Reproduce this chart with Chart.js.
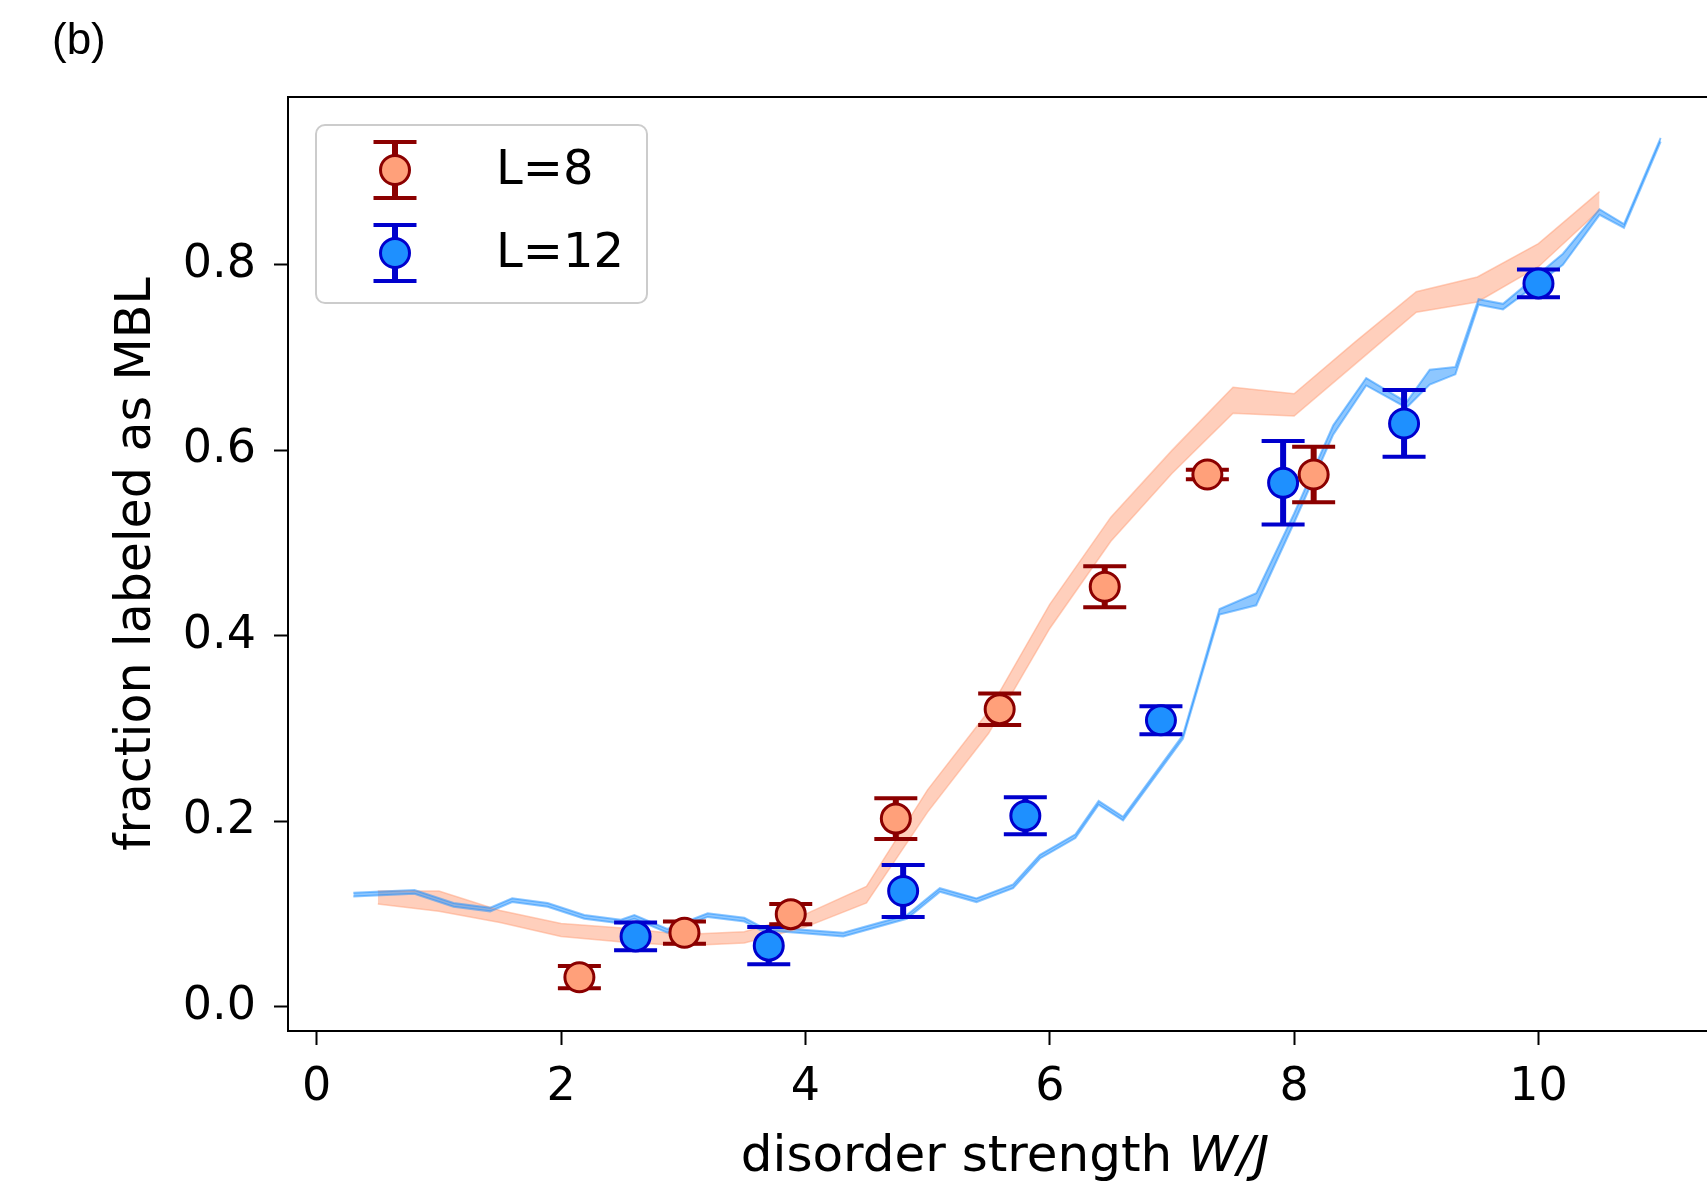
<!DOCTYPE html>
<html>
<head>
<meta charset="utf-8">
<script src="https://cdn.jsdelivr.net/npm/chart.js@4.4.1/dist/chart.umd.min.js"></script>
<style>
  html, body { margin: 0; padding: 0; background: #fff; overflow: hidden; }
  #wrap { width: 1707px; height: 1185px; overflow: hidden; }
</style>
</head>
<body>
<div id="wrap"><canvas id="chart" width="1760" height="1185"></canvas></div>
<script>
// ---- data ----
const l8X = [2.15, 3.01, 3.88, 4.74, 5.59, 6.45, 7.29, 8.16];
const l8Y = [0.032, 0.080, 0.100, 0.203, 0.321, 0.453, 0.574, 0.574];
const l8Err = [0.012, 0.012, 0.011, 0.022, 0.017, 0.022, 0.005, 0.030];

const l12X = [2.61, 3.70, 4.80, 5.80, 6.91, 7.91, 8.90, 10.0];
const l12Y = [0.076, 0.066, 0.125, 0.206, 0.309, 0.565, 0.629, 0.780];
const l12Err = [0.015, 0.020, 0.028, 0.020, 0.015, 0.045, 0.036, 0.015];

// shaded band for L=8
const bandX = [0.5, 1.0, 1.5, 2.0, 2.5, 3.0, 3.5, 4.0, 4.5, 5.0, 5.5, 6.0, 6.5, 7.0, 7.5, 8.0, 8.5, 9.0, 9.5, 10.0, 10.5];
const bandLo = [0.111, 0.103, 0.091, 0.076, 0.070, 0.066, 0.069, 0.086, 0.112, 0.210, 0.295, 0.408, 0.502, 0.575, 0.640, 0.637, 0.693, 0.749, 0.760, 0.798, 0.859];
const bandHi = [0.125, 0.125, 0.104, 0.090, 0.085, 0.078, 0.081, 0.100, 0.130, 0.234, 0.319, 0.434, 0.528, 0.600, 0.668, 0.661, 0.717, 0.771, 0.787, 0.823, 0.879];

// thin band for L=12
const lineX = [0.3, 0.8, 1.12, 1.42, 1.6, 1.89, 2.19, 2.49, 2.6, 2.87, 3.2, 3.5, 3.63, 4.01, 4.31, 4.83, 5.1, 5.4, 5.7, 5.92, 6.21, 6.4, 6.6, 7.09, 7.39, 7.69, 8.0, 8.32, 8.59, 8.92, 9.11, 9.32, 9.51, 9.71, 10.2, 10.5, 10.7, 11.0];
const lineLo = [0.119, 0.122, 0.108, 0.103, 0.113, 0.108, 0.095, 0.090, 0.095, 0.080, 0.097, 0.092, 0.083, 0.079, 0.076, 0.095, 0.124, 0.113, 0.128, 0.160, 0.182, 0.218, 0.201, 0.289, 0.423, 0.433, 0.522, 0.617, 0.670, 0.646, 0.671, 0.682, 0.757, 0.752, 0.800, 0.854, 0.840, 0.933];
const lineHi = [0.123, 0.126, 0.112, 0.107, 0.117, 0.112, 0.099, 0.094, 0.099, 0.084, 0.101, 0.096, 0.087, 0.083, 0.080, 0.099, 0.128, 0.117, 0.132, 0.164, 0.186, 0.222, 0.205, 0.293, 0.429, 0.446, 0.532, 0.627, 0.678, 0.652, 0.687, 0.690, 0.763, 0.758, 0.812, 0.860, 0.844, 0.937];

const xTicks = [0, 2, 4, 6, 8, 10];
const yTicks = [0.0, 0.2, 0.4, 0.6, 0.8];

const pts = (xs, ys) => xs.map((x, i) => ({ x: x, y: ys[i] }));

const FONT = "'DejaVu Sans', Verdana, sans-serif";

// error bars drawn just before the markers of each scatter set
const errorBars = {
  id: "errorBars",
  beforeDatasetDraw(chart, args) {
    const ds = chart.data.datasets[args.index];
    if (!ds.errY) return;
    const ctx = chart.ctx;
    const ys = chart.scales.y;
    ctx.save();
    ctx.strokeStyle = ds.errColor;
    args.meta.data.forEach((p, i) => {
      const v = ds.data[i].y;
      const top = ys.getPixelForValue(v + ds.errY[i]);
      const bot = ys.getPixelForValue(v - ds.errY[i]);
      ctx.lineWidth = 6;
      ctx.beginPath();
      ctx.moveTo(p.x, top);
      ctx.lineTo(p.x, bot);
      ctx.stroke();
      ctx.lineWidth = 4;
      ctx.beginPath();
      ctx.moveTo(p.x - 21.5, top);
      ctx.lineTo(p.x + 21.5, top);
      ctx.moveTo(p.x - 21.5, bot);
      ctx.lineTo(p.x + 21.5, bot);
      ctx.stroke();
    });
    ctx.restore();
  }
};

// top spine, legend box, panel letter, x title
const extras = {
  id: "extras",
  afterDraw(chart) {
    const ctx = chart.ctx;
    const a = chart.chartArea;
    ctx.save();
    ctx.strokeStyle = "#000";
    ctx.lineWidth = 2;
    ctx.beginPath();
    ctx.moveTo(a.left, a.top);
    ctx.lineTo(a.right, a.top);
    ctx.lineTo(a.right, a.bottom);
    ctx.stroke();

    // legend
    const lx = a.left + 28, ly = a.top + 28, lw = 331, lh = 178;
    ctx.beginPath();
    ctx.roundRect(lx, ly, lw, lh, 9);
    ctx.fillStyle = "rgba(255,255,255,0.8)";
    ctx.fill();
    ctx.strokeStyle = "#cccccc";
    ctx.lineWidth = 2;
    ctx.stroke();
    const entries = [chart.data.datasets[4], chart.data.datasets[5]];
    entries.forEach((ds, k) => {
      const cx = lx + 79, cy = ly + 45 + k * 83;
      ctx.strokeStyle = ds.errColor;
      ctx.lineWidth = 6;
      ctx.beginPath();
      ctx.moveTo(cx, cy - 28);
      ctx.lineTo(cx, cy + 28);
      ctx.stroke();
      ctx.lineWidth = 4;
      ctx.beginPath();
      ctx.moveTo(cx - 21.5, cy - 28);
      ctx.lineTo(cx + 21.5, cy - 28);
      ctx.moveTo(cx - 21.5, cy + 28);
      ctx.lineTo(cx + 21.5, cy + 28);
      ctx.stroke();
      ctx.beginPath();
      ctx.arc(cx, cy, 14.5, 0, Math.PI * 2);
      ctx.fillStyle = ds.backgroundColor;
      ctx.fill();
      ctx.lineWidth = 3;
      ctx.strokeStyle = ds.borderColor;
      ctx.stroke();
      ctx.fillStyle = "#000";
      ctx.font = "48px " + FONT;
      ctx.textAlign = "left";
      ctx.textBaseline = "middle";
      ctx.fillText(ds.label, lx + 180, cy + 2);
    });

    // panel letter
    ctx.fillStyle = "#000";
    ctx.font = "44px 'Liberation Sans', Arial, sans-serif";
    ctx.textAlign = "left";
    ctx.textBaseline = "alphabetic";
    ctx.fillText("(b)", 52, 54);

    // x axis title with italic W/J
    ctx.font = "50px " + FONT;
    const t1 = "disorder strength ";
    const w1 = ctx.measureText(t1).width;
    ctx.font = "italic 50px " + FONT;
    const t2 = "W/J";
    const w2 = ctx.measureText(t2).width;
    const x0 = (a.left + 1722) / 2 - (w1 + w2) / 2;
    ctx.font = "50px " + FONT;
    ctx.fillText(t1, x0, 1171);
    ctx.font = "italic 50px " + FONT;
    ctx.fillText(t2, x0 + w1, 1171);
    ctx.restore();
  }
};

new Chart(document.getElementById("chart"), {
  data: {
    datasets: [
      {
        type: "line", label: "band8lo", data: pts(bandX, bandLo),
        borderColor: "rgba(255,160,122,0.5)", borderWidth: 1.5, pointRadius: 0, fill: false, order: 6
      },
      {
        type: "line", label: "band8hi", data: pts(bandX, bandHi),
        borderColor: "rgba(255,160,122,0.5)", borderWidth: 1.5, pointRadius: 0,
        fill: { target: 0 }, backgroundColor: "rgba(255,160,122,0.5)", order: 5
      },
      {
        type: "line", label: "band12lo", data: pts(lineX, lineLo),
        borderColor: "rgba(30,144,255,0.5)", borderWidth: 2, pointRadius: 0, fill: false, order: 4
      },
      {
        type: "line", label: "band12hi", data: pts(lineX, lineHi),
        borderColor: "rgba(30,144,255,0.5)", borderWidth: 2, pointRadius: 0,
        fill: { target: 2 }, backgroundColor: "rgba(30,144,255,0.5)", order: 3
      },
      {
        type: "scatter", label: "L=8", data: pts(l8X, l8Y), errY: l8Err, errColor: "#8b0000",
        backgroundColor: "#ffa07a", borderColor: "#8b0000", borderWidth: 3, pointRadius: 14.5, order: 1
      },
      {
        type: "scatter", label: "L=12", data: pts(l12X, l12Y), errY: l12Err, errColor: "#0000cd",
        backgroundColor: "#1e90ff", borderColor: "#0000cd", borderWidth: 3, pointRadius: 14.5, order: 2
      }
    ]
  },
  options: {
    responsive: false,
    animation: false,
    events: [],
    layout: { padding: { left: 0, top: 97, right: 34, bottom: 0 } },
    plugins: {
      legend: { display: false },
      tooltip: { enabled: false },
      filler: { drawTime: "beforeDatasetsDraw" }
    },
    scales: {
      x: {
        type: "linear", min: -0.235, max: 11.535,
        afterBuildTicks: (s) => { s.ticks = xTicks.map((v) => ({ value: v })); },
        afterFit: (s) => { s.height = 154; },
        border: { color: "#000", width: 2 },
        grid: { drawOnChartArea: false, tickLength: 14, tickWidth: 2, tickColor: "#000" },
        ticks: { autoSkip: false, maxRotation: 0, padding: 15, color: "#000", font: { family: FONT, size: 46 } }
      },
      y: {
        type: "linear", min: -0.026, max: 0.981,
        afterBuildTicks: (s) => { s.ticks = yTicks.map((v) => ({ value: v })); },
        afterFit: (s) => { s.width = 288; },
        border: { color: "#000", width: 2 },
        grid: { drawOnChartArea: false, tickLength: 14, tickWidth: 2, tickColor: "#000" },
        ticks: {
          autoSkip: false, padding: 18, color: "#000", font: { family: FONT, size: 46 },
          callback: (v) => v.toFixed(1)
        },
        title: {
          display: true, text: "fraction labeled as MBL", color: "#000",
          font: { family: FONT, size: 49 }, padding: { top: 108, bottom: 0 }
        }
      }
    }
  },
  plugins: [errorBars, extras]
});
</script>
</body>
</html>
